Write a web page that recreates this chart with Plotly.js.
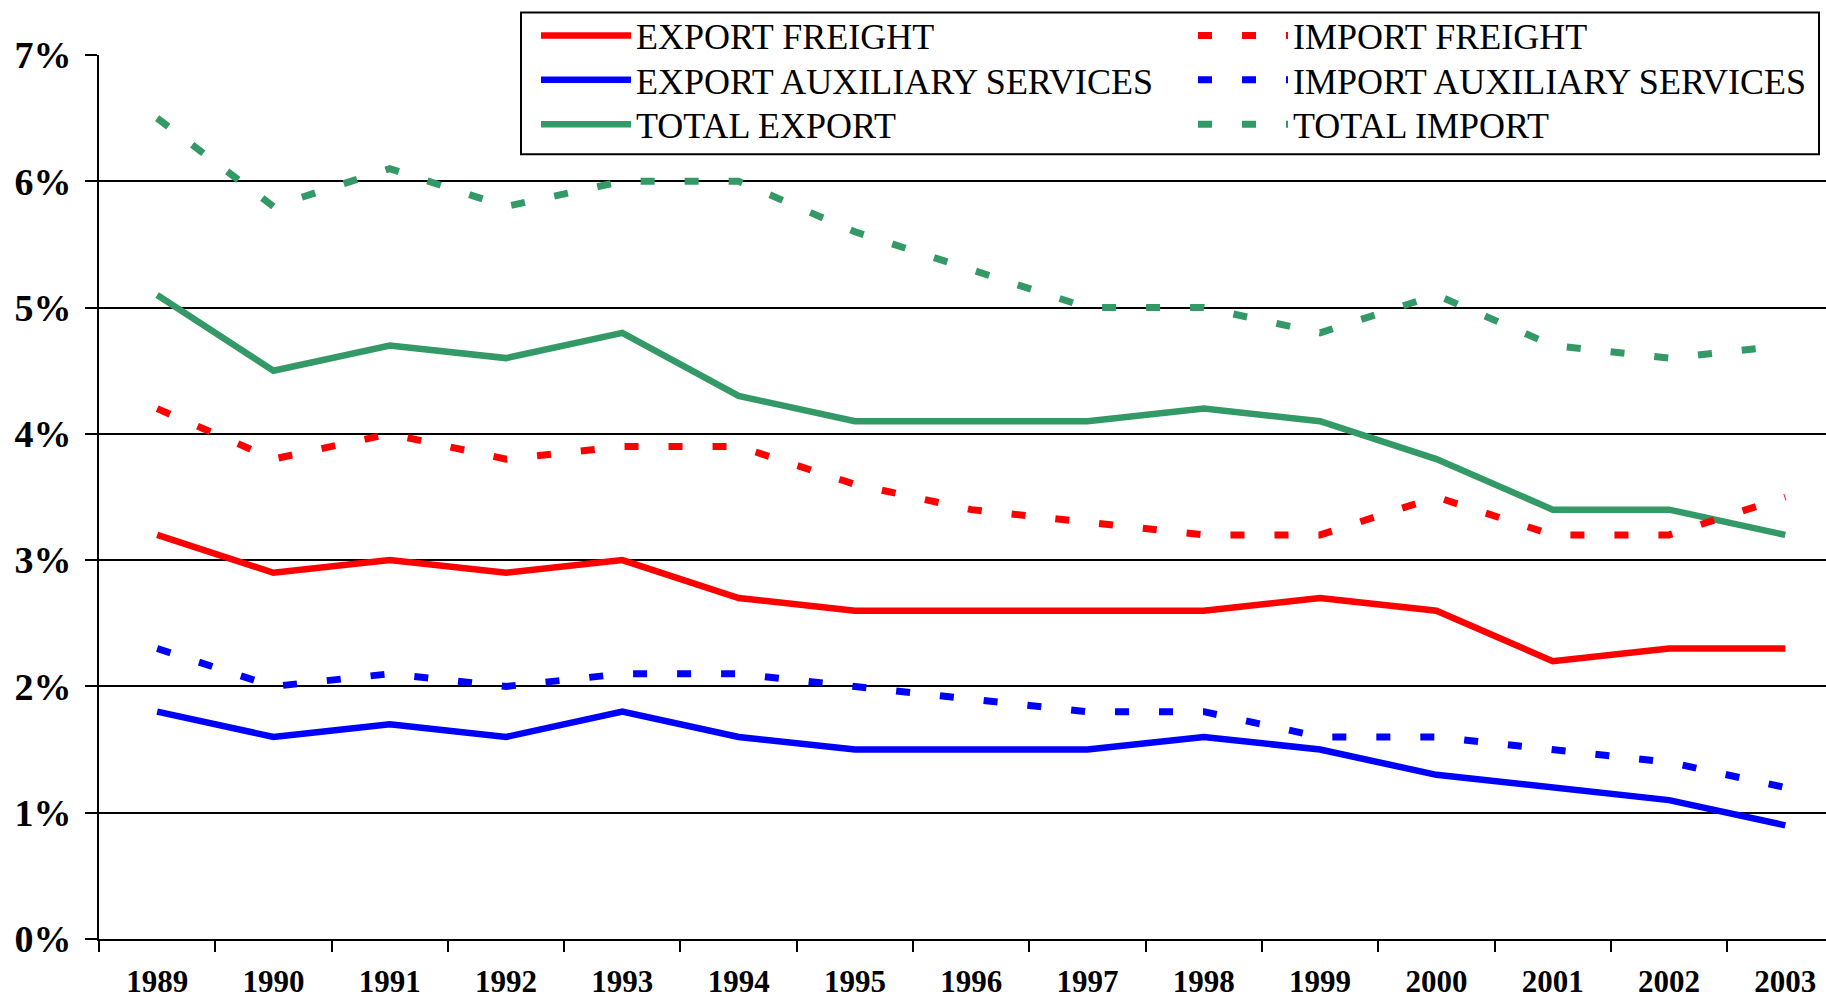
<!DOCTYPE html>
<html>
<head>
<meta charset="utf-8">
<script src="https://cdn.plot.ly/plotly-3.0.1.min.js"></script>
<style>
html, body { margin: 0; padding: 0; background: #fff; overflow: hidden; }
#chart { width: 1826px; height: 1002px; }
</style>
</head>
<body>
<div id="chart"></div>
<script>
const years = ['1989','1990','1991','1992','1993','1994','1995','1996','1997','1998','1999','2000','2001','2002','2003'];

const exportFreight   = [3.2, 2.9, 3.0, 2.9, 3.0, 2.7, 2.6, 2.6, 2.6, 2.6, 2.7, 2.6, 2.2, 2.3, 2.3];
const importFreight   = [4.2, 3.8, 4.0, 3.8, 3.9, 3.9, 3.6, 3.4, 3.3, 3.2, 3.2, 3.5, 3.2, 3.2, 3.5];
const exportAuxiliary = [1.8, 1.6, 1.7, 1.6, 1.8, 1.6, 1.5, 1.5, 1.5, 1.6, 1.5, 1.3, 1.2, 1.1, 0.9];
const importAuxiliary = [2.3, 2.0, 2.1, 2.0, 2.1, 2.1, 2.0, 1.9, 1.8, 1.8, 1.6, 1.6, 1.5, 1.4, 1.2];
const totalExport     = [5.1, 4.5, 4.7, 4.6, 4.8, 4.3, 4.1, 4.1, 4.1, 4.2, 4.1, 3.8, 3.4, 3.4, 3.2];
const totalImport     = [6.5, 5.8, 6.1, 5.8, 6.0, 6.0, 5.6, 5.3, 5.0, 5.0, 4.8, 5.1, 4.7, 4.6, 4.7];

const yTickVals = [0, 1, 2, 3, 4, 5, 6, 7];
const yTickText = ['0%', '1%', '2%', '3%', '4%', '5%', '6%', '7%'];

const RED = '#FF0000', BLUE = '#0000FF', GREEN = '#339966';
const FONT = '"Liberation Serif", "Times New Roman", Times, serif';
const SOLID_W = 6.5, DASH_W = 7, DASH = '14px,30px';

const W = 1826, H = 1002;
const L = 99, T = 54.7, B = H - 938.7, R = 0;
const pw = W - L - R, ph = H - T - B;
const px = v => (v - L) / pw;
const py = v => (H - B - v) / ph;

// legend slots: column left edges and row centres (pixels)
const colX = [536, 1193];
const rowY = [35.2, 79.5, 124];

function tr(name, y, color, dashed, legendId) {
  return {
    type: 'scatter', mode: 'lines', name: name, x: years, y: y,
    line: { color: color, width: dashed ? DASH_W : SOLID_W, dash: dashed ? DASH : 'solid' },
    legend: legendId, hoverinfo: 'x+y+name'
  };
}

const data = [
  tr('EXPORT FREIGHT', exportFreight, RED, false, 'legend'),
  tr('EXPORT AUXILIARY SERVICES', exportAuxiliary, BLUE, false, 'legend2'),
  tr('TOTAL EXPORT', totalExport, GREEN, false, 'legend3'),
  tr('IMPORT FREIGHT', importFreight, RED, true, 'legend4'),
  tr('IMPORT AUXILIARY SERVICES', importAuxiliary, BLUE, true, 'legend5'),
  tr('TOTAL IMPORT', totalImport, GREEN, true, 'legend6')
];

function leg(col, row) {
  return {
    orientation: 'v', xanchor: 'left', yanchor: 'middle',
    x: px(colX[col]), y: py(rowY[row]),
    bgcolor: 'rgba(0,0,0,0)', borderwidth: 0,
    font: { family: FONT, size: 36, color: '#000' },
    itemwidth: 90
  };
}

const layout = {
  width: W, height: H,
  margin: { l: L, r: R, t: T, b: B, pad: 0 },
  paper_bgcolor: '#fff', plot_bgcolor: '#fff',
  font: { family: FONT, color: '#000' },
  showlegend: true,
  legend: leg(0, 0), legend2: leg(0, 1), legend3: leg(0, 2),
  legend4: leg(1, 0), legend5: leg(1, 1), legend6: leg(1, 2),
  xaxis: {
    type: 'category', range: [-0.5, 14.35],
    tickson: 'boundaries', ticks: 'outside', ticklen: 11, tickwidth: 2, tickcolor: '#000',
    showgrid: false, zeroline: false,
    showline: true, linecolor: '#000', linewidth: 2,
    tickfont: { family: FONT, size: 31, color: '#000', weight: 'bold' },
    ticklabelstandoff: 14, fixedrange: true
  },
  yaxis: {
    range: [0, 7], tickmode: 'array', tickvals: yTickVals, ticktext: yTickText,
    ticks: 'outside', ticklen: 12, tickwidth: 2, tickcolor: '#000',
    showgrid: true, gridcolor: '#000', gridwidth: 2,
    zeroline: false, showline: true, linecolor: '#000', linewidth: 2,
    tickfont: { family: FONT, size: 38, color: '#000', weight: 'bold' },
    ticklabelstandoff: 6, fixedrange: true
  },
  shapes: [{
    type: 'rect', xref: 'paper', yref: 'paper', layer: 'above',
    x0: px(521), x1: px(1819), y0: py(154), y1: py(12.3),
    fillcolor: '#fff', line: { color: '#000', width: 2 }
  }]
};

Plotly.newPlot('chart', data, layout, { displayModeBar: false, staticPlot: true });
</script>
</body>
</html>
